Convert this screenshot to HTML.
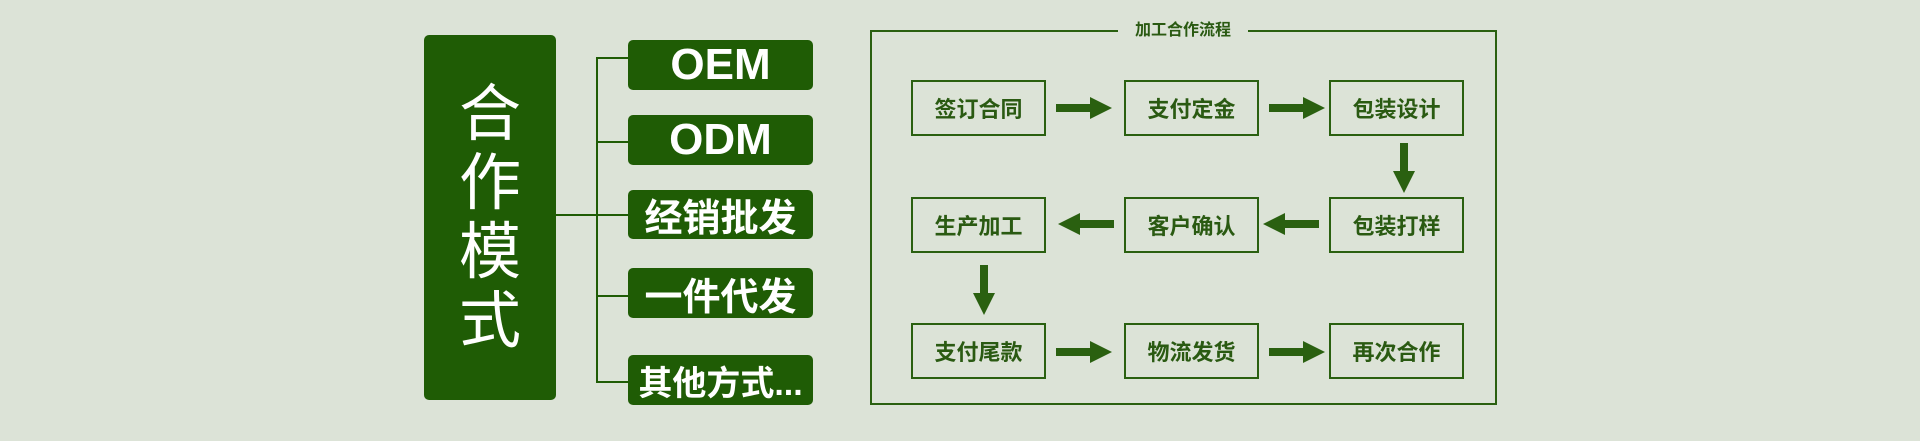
<!DOCTYPE html>
<html><head><meta charset="utf-8"><style>
body{margin:0;width:1920px;height:441px;background:#dce3d7;position:relative;overflow:hidden;font-family:"Liberation Sans","Noto Sans CJK SC",sans-serif}
.a{position:absolute}
.big{left:424px;top:35px;width:132px;height:365px;background:#1f5c05;border-radius:5px;color:#fff;font-size:62px;line-height:69px;text-align:center;display:flex;flex-direction:column;justify-content:center}
.sb{left:628px;width:185px;background:#1f5c05;border-radius:5px;color:#fff;font-weight:bold;text-align:center;display:flex;align-items:center;justify-content:center;white-space:nowrap}
.ln{background:#1f5c05}
.bx{position:absolute;width:131px;height:52px;border:2px solid #2a6010;color:#2a5a12;font-weight:bold;font-size:22px;display:flex;align-items:center;justify-content:center}
</style></head><body>
<div class="a big"><div>合</div><div>作</div><div>模</div><div>式</div></div>
<div class="a ln" style="left:556px;top:214px;width:41px;height:2px"></div>
<div class="a ln" style="left:596px;top:57px;width:2px;height:326px"></div>
<div class="a ln" style="left:596px;top:57px;width:32px;height:2px"></div>
<div class="a ln" style="left:596px;top:141px;width:32px;height:2px"></div>
<div class="a ln" style="left:596px;top:214px;width:32px;height:2px"></div>
<div class="a ln" style="left:596px;top:295px;width:32px;height:2px"></div>
<div class="a ln" style="left:596px;top:381px;width:32px;height:2px"></div>
<div class="a sb" style="top:40px;height:50px;font-size:44px">OEM</div>
<div class="a sb" style="top:115px;height:50px;font-size:44px">ODM</div>
<div class="a sb" style="top:190px;height:49px;font-size:38px">经销批发</div>
<div class="a sb" style="top:268px;height:50px;font-size:38px">一件代发</div>
<div class="a sb" style="top:355px;height:50px;font-size:34px">其他方式...</div>

<div class="a" style="left:870px;top:30px;width:623px;height:371px;border:2px solid #2a6010"></div>
<div class="a" style="left:1118px;top:20px;width:130px;height:22px;background:#dce3d7;color:#2a5a12;font-size:16px;font-weight:bold;text-align:center;line-height:22px">加工合作流程</div>

<div class="bx" style="left:911px;top:80px">签订合同</div>
<div class="bx" style="left:1124px;top:80px">支付定金</div>
<div class="bx" style="left:1329px;top:80px">包装设计</div>
<div class="bx" style="left:911px;top:197px">生产加工</div>
<div class="bx" style="left:1124px;top:197px">客户确认</div>
<div class="bx" style="left:1329px;top:197px">包装打样</div>
<div class="bx" style="left:911px;top:323px">支付尾款</div>
<div class="bx" style="left:1124px;top:323px">物流发货</div>
<div class="bx" style="left:1329px;top:323px">再次合作</div>

<svg class="a" style="left:0;top:0" width="1920" height="441">
<defs>
<polygon id="r" points="0,-4 34,-4 34,-11 56,0 34,11 34,4 0,4" fill="#2a6010"/>
<polygon id="d" points="-4,0 4,0 4,28 11,28 0,50 -11,28 -4,28" fill="#2a6010"/>
</defs>
<use href="#r" x="1056" y="108"/>
<use href="#r" x="1269" y="108"/>
<use href="#r" x="1056" y="352"/>
<use href="#r" x="1269" y="352"/>
<use href="#r" transform="translate(1114,224) scale(-1,1)"/>
<use href="#r" transform="translate(1319,224) scale(-1,1)"/>
<use href="#d" x="1404" y="143"/>
<use href="#d" x="984" y="265"/>
</svg>
</body></html>
